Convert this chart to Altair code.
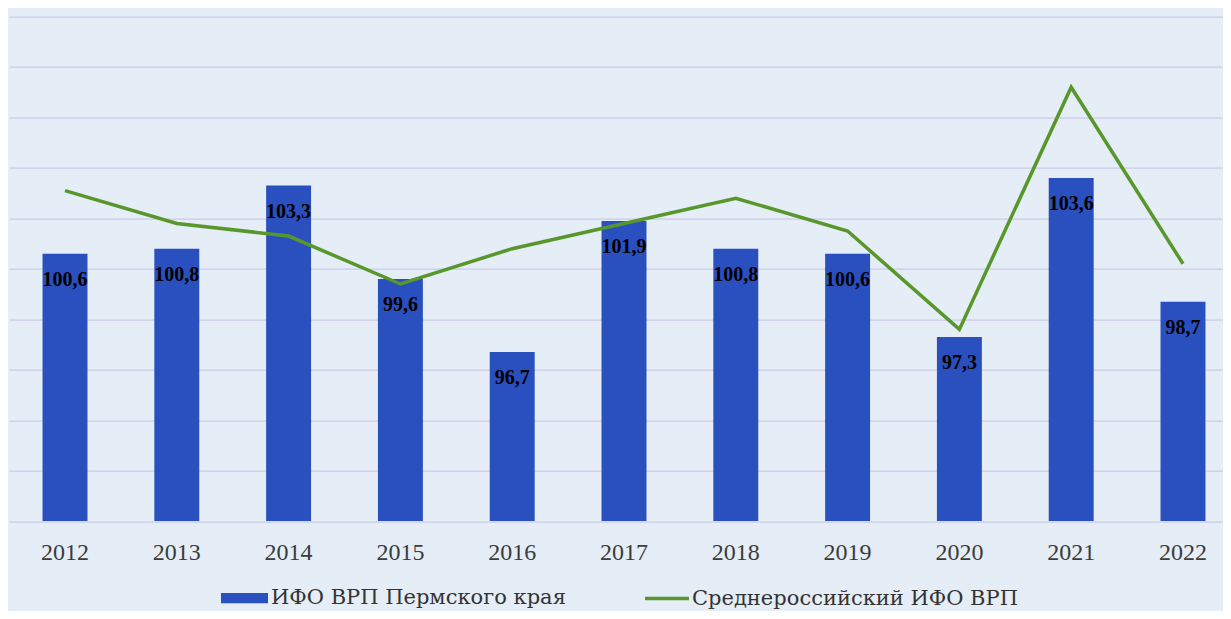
import altair as alt
import pandas as pd

years = ["2012", "2013", "2014", "2015", "2016", "2017", "2018", "2019", "2020", "2021", "2022"]
perm = [100.6, 100.8, 103.3, 99.6, 96.7, 101.9, 100.8, 100.6, 97.3, 103.6, 98.7]
russia = [103.1, 101.8, 101.3, 99.4, 100.8, 101.8, 102.8, 101.5, 97.6, 107.2, 100.2]
bar_name = "ИФО ВРП Пермского края"
line_name = "Среднероссийский ИФО ВРП"
y_ticks = [90, 92, 94, 96, 98, 100, 102, 104, 106, 108, 110]

df = pd.DataFrame({
    "year": years,
    "perm": perm,
    "russia": russia,
    "label": [f"{v:.1f}".replace(".", ",") for v in perm],
    "bar_series": [bar_name] * len(years),
    "line_series": [line_name] * len(years),
})

BLUE = "#2a4fbf"
GREEN = "#57972b"
FONT = "Liberation Serif"
LEG_FONT = "DejaVu Serif"
BG = "#e5edf7"

x_enc = alt.X(
    "year:N",
    sort=years,
    scale=alt.Scale(range=[0, 1230], paddingInner=0.598, paddingOuter=0.3),
    axis=alt.Axis(
        title=None, labelAngle=0, ticks=False, tickSize=0, domain=False, grid=False,
        labelFont=FONT, labelFontSize=24, labelColor="#3c3c3c",
        labelBaseline="alphabetic", labelPadding=38,
    ),
)
y_scale = alt.Scale(domain=[90, 110], nice=False, zero=False)

bars = alt.Chart(df).mark_bar().encode(
    x=x_enc,
    y=alt.Y(
        "perm:Q", scale=y_scale,
        axis=alt.Axis(
            title=None, values=y_ticks, labels=False, ticks=False, domain=False,
            grid=True, gridColor="#c7c2e4", gridWidth=1,
        ),
    ),
    y2=alt.datum(90),
    fill=alt.Fill(
        "bar_series:N",
        scale=alt.Scale(domain=[bar_name], range=[BLUE]),
        legend=alt.Legend(
            title=None, orient="none", legendX=212, legendY=558, padding=0,
            symbolType="M-1,-0.22H1V0.22H-1Z", symbolSize=2209,
            symbolStrokeWidth=0, symbolOpacity=1, labelLimit=600,
            labelFont=LEG_FONT, labelFontSize=21, labelColor="#333333", labelOffset=3,
        ),
    ),
)

labels = alt.Chart(df).mark_text(
    baseline="middle", dy=26, font=FONT, fontWeight="bold", fontSize=20, color="#000000"
).encode(
    x=alt.X("year:N", sort=years),
    y=alt.Y("perm:Q", scale=y_scale),
    text="label:N",
)

line = alt.Chart(df).mark_line(strokeWidth=3.5).encode(
    x=alt.X("year:N", sort=years),
    y=alt.Y("russia:Q", scale=y_scale),
    stroke=alt.Stroke(
        "line_series:N",
        scale=alt.Scale(domain=[line_name], range=[GREEN]),
        legend=alt.Legend(
            title=None, orient="none", legendX=634, legendY=558, padding=0,
            symbolType="stroke", symbolSize=1936, symbolStrokeWidth=3.5,
            labelLimit=600,
            labelFont=LEG_FONT, labelFontSize=21, labelColor="#333333", labelOffset=1,
        ),
    ),
)

chart = alt.layer(bars, line, labels).properties(
    width=1214,
    height=504.5,
    background=BG,
    padding={"left": 1, "top": 8.6, "right": 0, "bottom": 89.9},
    autosize=alt.AutoSizeParams(type="none"),
).configure_view(stroke=None, fill=BG)

chart.save("out.html", embed_options={"renderer": "svg", "actions": False})
